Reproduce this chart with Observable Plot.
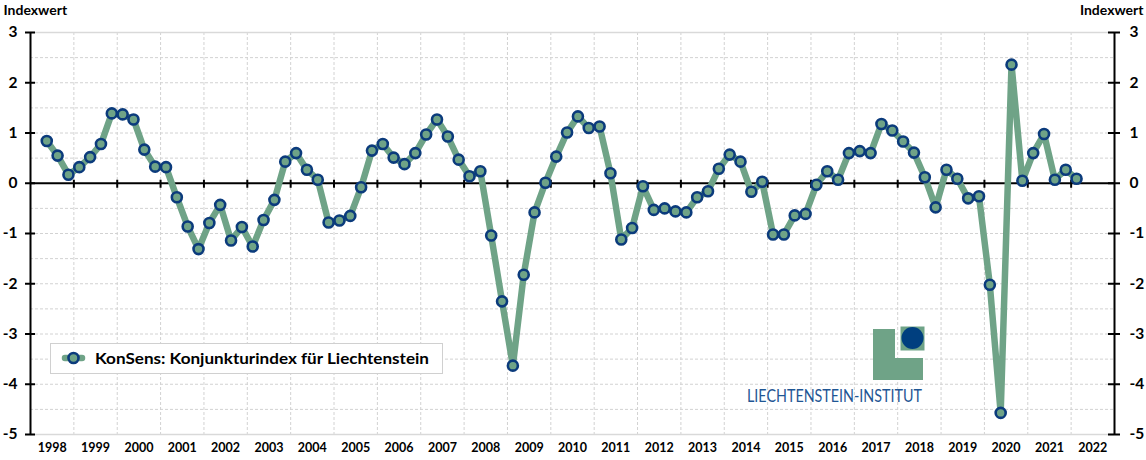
<!DOCTYPE html>
<html><head><meta charset="utf-8">
<script src="https://cdn.jsdelivr.net/npm/d3@7"></script>
<script src="https://cdn.jsdelivr.net/npm/@observablehq/plot@0.6"></script>
<style>html,body{margin:0;padding:0;background:#fff} svg{display:block}</style>
</head><body><div id="chart"></div>
<script>
// Quarters (1998 Q2 – 2022 Q1) and index values
const quarters = [
  "1998Q2","1998Q3","1998Q4",
  "1999Q1","1999Q2","1999Q3","1999Q4",
  "2000Q1","2000Q2","2000Q3","2000Q4",
  "2001Q1","2001Q2","2001Q3","2001Q4",
  "2002Q1","2002Q2","2002Q3","2002Q4",
  "2003Q1","2003Q2","2003Q3","2003Q4",
  "2004Q1","2004Q2","2004Q3","2004Q4",
  "2005Q1","2005Q2","2005Q3","2005Q4",
  "2006Q1","2006Q2","2006Q3","2006Q4",
  "2007Q1","2007Q2","2007Q3","2007Q4",
  "2008Q1","2008Q2","2008Q3","2008Q4",
  "2009Q1","2009Q2","2009Q3","2009Q4",
  "2010Q1","2010Q2","2010Q3","2010Q4",
  "2011Q1","2011Q2","2011Q3","2011Q4",
  "2012Q1","2012Q2","2012Q3","2012Q4",
  "2013Q1","2013Q2","2013Q3","2013Q4",
  "2014Q1","2014Q2","2014Q3","2014Q4",
  "2015Q1","2015Q2","2015Q3","2015Q4",
  "2016Q1","2016Q2","2016Q3","2016Q4",
  "2017Q1","2017Q2","2017Q3","2017Q4",
  "2018Q1","2018Q2","2018Q3","2018Q4",
  "2019Q1","2019Q2","2019Q3","2019Q4",
  "2020Q1","2020Q2","2020Q3","2020Q4",
  "2021Q1","2021Q2","2021Q3","2021Q4",
  "2022Q1"
];
const konsens = [
  0.84, 0.55, 0.17,
  0.32, 0.52, 0.78, 1.39,
  1.37, 1.27, 0.67, 0.33,
  0.32, -0.28, -0.86, -1.31,
  -0.79, -0.43, -1.14, -0.87,
  -1.26, -0.73, -0.33, 0.43,
  0.60, 0.27, 0.07, -0.78,
  -0.74, -0.65, -0.08, 0.65,
  0.78, 0.51, 0.38, 0.60,
  0.97, 1.27, 0.93, 0.47,
  0.14, 0.24, -1.04, -2.35,
  -3.63, -1.82, -0.58, 0.01,
  0.53, 1.01, 1.33, 1.10,
  1.13, 0.20, -1.12, -0.89,
  -0.06, -0.53, -0.50, -0.56,
  -0.58, -0.28, -0.16, 0.29,
  0.57, 0.43, -0.17, 0.03,
  -1.02, -1.02, -0.64, -0.61,
  -0.03, 0.24, 0.07, 0.60,
  0.64, 0.60, 1.18, 1.05,
  0.83, 0.61, 0.12, -0.48,
  0.27, 0.09, -0.30, -0.26,
  -2.02, -4.57, 2.36, 0.05,
  0.60, 0.98, 0.07, 0.27,
  0.09
];
const years = [1998,1999,2000,2001,2002,2003,2004,2005,2006,2007,2008,2009,2010,
  2011,2012,2013,2014,2015,2016,2017,2018,2019,2020,2021,2022];
const yTicks = [-5,-4,-3,-2,-1,0,1,2,3];
const yGrid = [-4.5,-4,-3.5,-3,-2.5,-2,-1.5,-1,-0.5,0.5,1,1.5,2,2.5];
const seriesName = "KonSens: Konjunkturindex für Liechtenstein";
const axisTitle = "Indexwert";
const logoText = "LIECHTENSTEIN-INSTITUT";

const GREEN = "#6fa387", NAVY = "#0b3b7c";

// mid-quarter position on a continuous year axis
const data = quarters.map((q, i) => {
  const yr = +q.slice(0, 4), qn = +q.slice(5);
  return {t: yr + (qn - 0.5) / 4, v: konsens[i], q};
});
const xStart = years[0], xEnd = years[years.length - 1] + 1;
const boundaries = years.slice(1);
const centers = years.map(y => y + 0.5);

const chart = Plot.plot({
  width: 1146, height: 460,
  marginLeft: 30, marginRight: 32, marginTop: 32, marginBottom: 26,
  style: {fontFamily: "Lato, 'Open Sans', sans-serif", background: "#fff", color: "#000"},
  x: {domain: [xStart, xEnd]},
  y: {domain: [-5, 3]},
  marks: [
    Plot.ruleX(boundaries, {stroke: "#d2d2d2", strokeDasharray: "3,2", strokeWidth: 1}),
    Plot.ruleY(yGrid, {stroke: "#d2d2d2", strokeDasharray: "3,2", strokeWidth: 1}),
    Plot.ruleY([3, -5], {stroke: "#d9d9d9", strokeWidth: 1.5}),
    Plot.ruleY([0], {stroke: "#000", strokeWidth: 2}),
    Plot.ruleX(boundaries, {y1: 0, y2: 0, insetTop: -3, insetBottom: -5, stroke: "#000", strokeWidth: 2}),
    Plot.ruleX([xStart, xEnd], {stroke: "#000", strokeWidth: 2}),
    Plot.ruleY(yTicks, {x1: xStart, x2: xStart, insetLeft: -5, insetRight: -5, stroke: "#000", strokeWidth: 2}),
    Plot.ruleY(yTicks, {x1: xEnd, x2: xEnd, insetLeft: -6, insetRight: -6, stroke: "#000", strokeWidth: 2}),
    Plot.axisY(yTicks, {anchor: "left", tickSize: 0, tickPadding: 13, tickFormat: d => String(d),
      fontSize: 15.5, fontWeight: "bold", label: null}),
    Plot.axisY(yTicks, {anchor: "right", tickSize: 0, tickPadding: 15, tickFormat: d => String(d),
      fontSize: 15.5, fontWeight: "bold", label: null}),
    Plot.axisX(centers, {anchor: "bottom", tickSize: 0, tickPadding: 9, tickFormat: d => String(Math.floor(d)),
      fontSize: 12.5, fontWeight: "bold", label: null}),
    Plot.text([axisTitle], {text: d => d, frameAnchor: "top-left", dx: -27, dy: -22, lineAnchor: "middle",
      textAnchor: "start", fontSize: 14, fontWeight: "bold"}),
    Plot.text([axisTitle], {text: d => d, frameAnchor: "top-right", dx: 29, dy: -22, lineAnchor: "middle",
      textAnchor: "end", fontSize: 14, fontWeight: "bold"}),
    Plot.line(data, {x: "t", y: "v", stroke: GREEN, strokeWidth: 6.5, strokeLinejoin: "round"}),
    Plot.dot(data, {x: "t", y: "v", r: 5, fill: GREEN, stroke: NAVY, strokeWidth: 2.6})
  ]
});
document.getElementById("chart").appendChild(chart);

// Legend
const svg = d3.select(chart);
const lg = svg.append("g").attr("text-anchor", "start");
lg.append("rect").attr("x", 50.5).attr("y", 343.5).attr("width", 392).attr("height", 30)
  .attr("fill", "#fff").attr("stroke", "#d0d0d0");
lg.append("line").attr("x1", 65).attr("x2", 82).attr("y1", 358).attr("y2", 358)
  .attr("stroke", GREEN).attr("stroke-width", 6.5).attr("stroke-linecap", "round");
lg.append("circle").attr("cx", 73.5).attr("cy", 358).attr("r", 5)
  .attr("fill", GREEN).attr("stroke", NAVY).attr("stroke-width", 2.6);
lg.append("text").attr("x", 95).attr("y", 363.5).text(seriesName)
  .attr("text-anchor", "start")
  .attr("font-family", "Lato, sans-serif").attr("font-size", 15.5).attr("font-weight", "bold")
  .attr("textLength", 334).attr("lengthAdjust", "spacingAndGlyphs").attr("fill", "#000");

// Logo
const lo = svg.append("g").attr("text-anchor", "start");
lo.append("path").attr("d", "M873,329 H895 V358 H923 V380 H873 Z").attr("fill", GREEN);
lo.append("rect").attr("x", 900).attr("y", 326).attr("width", 25).attr("height", 25)
  .attr("fill", GREEN).attr("stroke", "#fff").attr("stroke-width", 1);
lo.append("circle").attr("cx", 912.5).attr("cy", 338).attr("r", 11).attr("fill", "#003f7f");
lo.append("text").attr("x", 747).attr("y", 401.5).text(logoText)
  .attr("text-anchor", "start")
  .attr("font-family", "Lato, sans-serif").attr("font-size", 17).attr("fill", "#1f5694")
  .attr("textLength", 175).attr("lengthAdjust", "spacingAndGlyphs");
</script>
</body></html>
